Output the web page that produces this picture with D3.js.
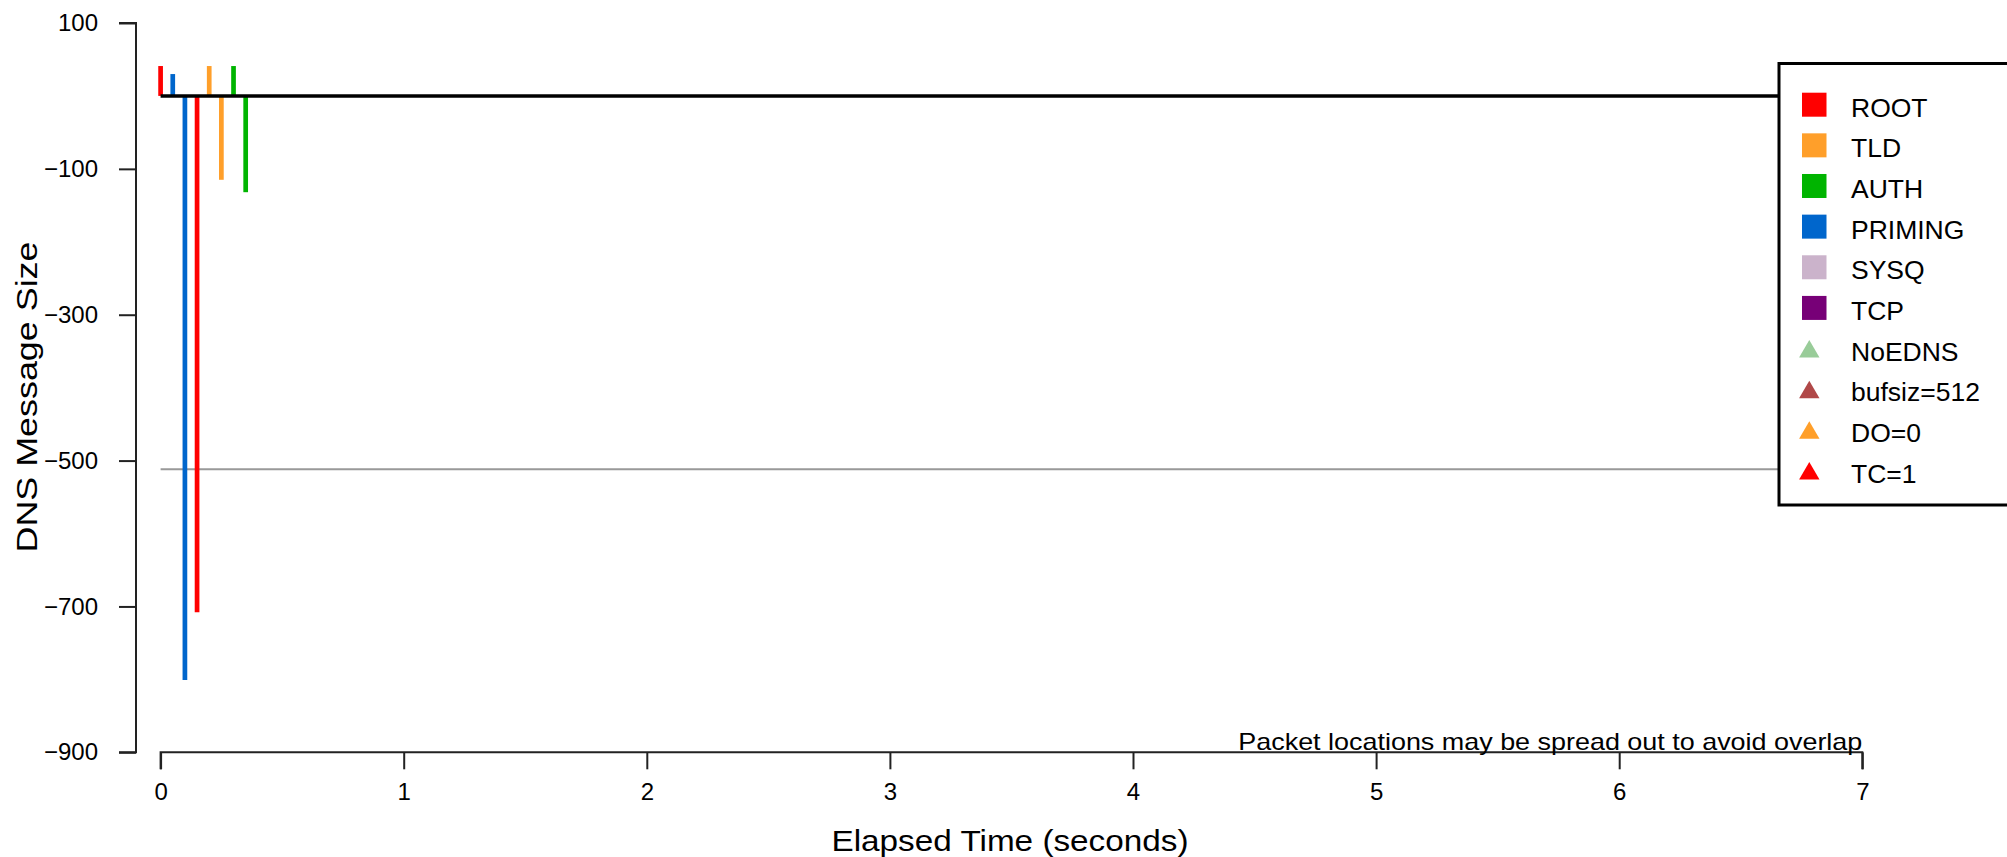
<!DOCTYPE html>
<html>
<head>
<meta charset="utf-8">
<script src="https://cdn.jsdelivr.net/npm/d3@7"></script>
<style>
  html, body { margin: 0; padding: 0; background: #fff; }
  svg { display: block; font-family: "Liberation Sans", Arial, Helvetica, sans-serif; }
</style>
</head>
<body>
<svg id="chart" width="2007" height="857"></svg>
<script>
// ---- data ----
const packetCategory = ["ROOT", "PRIMING", "PRIMING", "ROOT", "TLD", "TLD", "AUTH", "AUTH"];
const packetTime     = [0, 0.05, 0.10, 0.15, 0.20, 0.25, 0.30, 0.35];
const packetSize     = [41, 30, -801, -708, 41, -115, 41, -132];

const xTicks = [0, 1, 2, 3, 4, 5, 6, 7];
const yTicks = [100, -100, -300, -500, -700, -900];
const refLines = [0, -512];

const legendNames  = ["ROOT", "TLD", "AUTH", "PRIMING", "SYSQ", "TCP", "NoEDNS", "bufsiz=512", "DO=0", "TC=1"];
const legendShapes = ["square", "square", "square", "square", "square", "square", "triangle", "triangle", "triangle", "triangle"];
const legendColors = ["#ff0000", "#ff9f2a", "#00b400", "#0066cc", "#cbb3cb", "#770077", "#99cc99", "#b04848", "#ff9f2a", "#ff0000"];

const catColor = {ROOT: "#ff0000", TLD: "#ff9f2a", AUTH: "#00b400", PRIMING: "#0066cc", SYSQ: "#cbb3cb", TCP: "#770077"};

// ---- layout ----
const svg = d3.select("#chart");
const x = d3.scaleLinear().domain([0, 7]).range([160.6, 1862.3]);
const y = d3.scaleLinear().domain([100, -900]).range([23, 752.3]);
const axisColor = "#222";
const fontTick = 24;

// reference lines
svg.append("line")
  .attr("x1", x(0)).attr("x2", x(7))
  .attr("y1", y(refLines[1])).attr("y2", y(refLines[1]))
  .attr("stroke", "#999").attr("stroke-width", 2);

// packets
svg.append("g").selectAll("line").data(packetTime).join("line")
  .attr("x1", (d) => x(d)).attr("x2", (d) => x(d))
  .attr("y1", y(0))
  .attr("y2", (d, i) => y(packetSize[i]))
  .attr("stroke", (d, i) => catColor[packetCategory[i]])
  .attr("stroke-width", 4.7);

svg.append("line")
  .attr("x1", x(0)).attr("x2", x(7))
  .attr("y1", y(refLines[0])).attr("y2", y(refLines[0]))
  .attr("stroke", "#000").attr("stroke-width", 3.5);

// y axis
const yAxis = d3.axisLeft(y).tickValues(yTicks).tickSize(17).tickPadding(21)
  .tickFormat((d) => d < 0 ? "\u2212" + Math.abs(d) : String(d));
const gy = svg.append("g").attr("transform", "translate(136,0)").call(yAxis);
gy.select(".domain").attr("d", `M-17,${y(100)}H0V${y(-900)}H-17`).attr("stroke", axisColor).attr("stroke-width", 2);
gy.selectAll(".tick line").attr("stroke", axisColor).attr("stroke-width", 2);
gy.selectAll(".tick text").attr("font-size", fontTick).attr("fill", "#000")
  .attr("font-family", "Liberation Sans, Arial, sans-serif");

// x axis
const xAxis = d3.axisBottom(x).tickValues(xTicks).tickSize(17).tickPadding(14).tickFormat(d3.format("d"));
const gx = svg.append("g").attr("transform", `translate(0,${y(-900)})`).call(xAxis);
gx.select(".domain").attr("d", `M${x(0)},17V0H${x(7)}V17`).attr("stroke", axisColor).attr("stroke-width", 2);
gx.selectAll(".tick line").attr("stroke", axisColor).attr("stroke-width", 2);
gx.selectAll(".tick text").attr("font-size", fontTick).attr("fill", "#000")
  .attr("font-family", "Liberation Sans, Arial, sans-serif");

// axis titles
svg.append("text")
  .attr("x", 1010).attr("y", 851)
  .attr("text-anchor", "middle").attr("font-size", 30)
  .attr("textLength", 357).attr("lengthAdjust", "spacingAndGlyphs")
  .text("Elapsed Time (seconds)");

svg.append("text")
  .attr("transform", "translate(37,397) rotate(-90)")
  .attr("text-anchor", "middle").attr("font-size", 30)
  .attr("textLength", 311).attr("lengthAdjust", "spacingAndGlyphs")
  .text("DNS Message Size");

// note
svg.append("text")
  .attr("x", x(7)).attr("y", 750)
  .attr("text-anchor", "end").attr("font-size", 24)
  .attr("textLength", 624).attr("lengthAdjust", "spacingAndGlyphs")
  .text("Packet locations may be spread out to avoid overlap");

// legend
const lg = svg.append("g");
lg.append("rect")
  .attr("x", 1779).attr("y", 63.5).attr("width", 260).attr("height", 441.5)
  .attr("fill", "#fff").attr("stroke", "#000").attr("stroke-width", 3);
const rowY = d3.scaleLinear().domain([0, legendNames.length - 1]).range([104.7, 470.5]);
const rows = lg.selectAll("g.row").data(legendNames).join("g").attr("class", "row");
rows.each(function (d, i) {
  const g = d3.select(this);
  const cy = rowY(i);
  if (legendShapes[i] === "square") {
    g.append("rect").attr("x", 1802).attr("y", cy - 12).attr("width", 24.5).attr("height", 24)
      .attr("fill", legendColors[i]);
  } else {
    const cx = 1809.3;
    g.append("path")
      .attr("d", `M${cx - 10.2},${cy + 9}L${cx + 10.2},${cy + 9}L${cx},${cy - 8.5}Z`)
      .attr("fill", legendColors[i]);
  }
  g.append("text").attr("x", 1851).attr("y", cy + 12)
    .attr("font-size", 26.5).attr("fill", "#000").text(d);
});
</script>
</body>
</html>
